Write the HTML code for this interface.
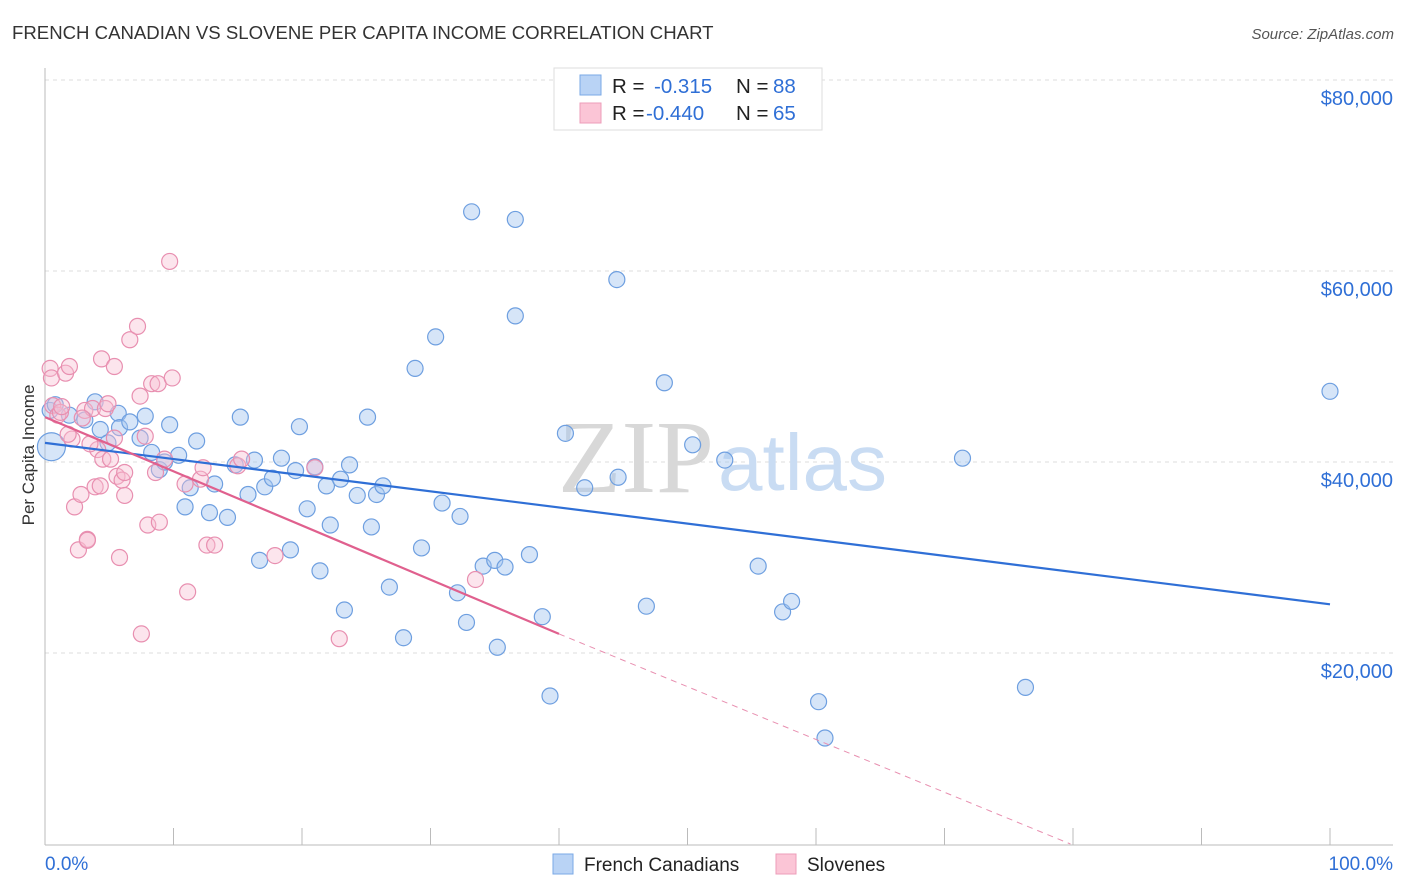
<!DOCTYPE html>
<html><head><meta charset="utf-8"><style>
body{margin:0;background:#fff;font-family:"Liberation Sans",sans-serif;}
svg{display:block}
</style></head><body>
<svg id="chart" width="1406" height="892" xmlns="http://www.w3.org/2000/svg">
<text x="12" y="39" font-size="18.6" fill="#333">FRENCH CANADIAN VS SLOVENE PER CAPITA INCOME CORRELATION CHART</text>
<text x="1394" y="39" font-size="15" fill="#555" font-style="italic" text-anchor="end">Source: ZipAtlas.com</text>
<g id="grid"></g>
<g id="axes"></g>
<text x="714" y="492" font-size="104" fill="#d8d8d8" text-anchor="end" font-family="Liberation Serif, serif">ZIP</text>
<text x="718" y="490" font-size="80" fill="#c9dcf3">atlas</text>
<g id="pts"></g>
<g id="lines"></g>
<text x="34" y="455" font-size="17" fill="#333" text-anchor="middle" transform="rotate(-90 34 455)">Per Capita Income</text>
<g>
<rect x="554" y="68" width="268" height="62" fill="#fff" stroke="#ddd"/>
<rect x="580" y="75" width="21" height="20" fill="#b9d3f5" stroke="#7aa8e6"/>
<rect x="580" y="103" width="21" height="20" fill="#fbc5d6" stroke="#ec9db9"/>
<text x="612" y="93" font-size="20.5" fill="#222">R = </text><text x="654" y="93" font-size="20.5" fill="#2f6fd6">-0.315</text>
<text x="736" y="93" font-size="20.5" fill="#222">N = </text><text x="773" y="93" font-size="20.5" fill="#2f6fd6">88</text>
<text x="612" y="120" font-size="20.5" fill="#222">R = </text><text x="646" y="120" font-size="20.5" fill="#2f6fd6">-0.440</text>
<text x="736" y="120" font-size="20.5" fill="#222">N = </text><text x="773" y="120" font-size="20.5" fill="#2f6fd6">65</text>
</g>
<g>
<rect x="553" y="854" width="20" height="20" fill="#b9d3f5" stroke="#7aa8e6"/>
<text x="584" y="871" font-size="19" fill="#222">French Canadians</text>
<rect x="776" y="854" width="20" height="20" fill="#fbc5d6" stroke="#ec9db9"/>
<text x="807" y="871" font-size="19" fill="#222">Slovenes</text>
</g>
</svg>
<script>
const yTicks=[20000,40000,60000,80000];
const yTickLabels=["$20,000","$40,000","$60,000","$80,000"];
const xTicks=[0,10,20,30,40,50,60,70,80,90,100];
const blueX=[0.5,0.4,0.8,1.9,3.1,3.9,4.3,4.9,5.7,5.8,6.6,7.4,7.8,8.3,8.9,9.3,9.7,10.4,10.9,11.3,11.8,12.8,13.2,14.2,14.8,15.2,15.8,16.3,16.7,17.1,17.7,18.4,19.1,19.5,19.8,20.4,21.0,21.4,21.9,22.2,23.0,23.3,23.7,24.3,25.1,25.4,25.8,26.3,26.8,27.9,28.8,29.3,30.4,30.9,32.1,32.3,32.8,33.2,34.1,35.0,35.2,35.8,36.6,36.6,37.7,38.7,39.3,40.5,42.0,44.5,44.6,46.8,48.2,50.4,52.9,55.5,57.4,58.1,60.2,60.7,71.4,76.3,100.0];
const blueY=[41600,45400,46000,44900,44400,46300,43400,42000,45100,43600,44200,42500,44800,41000,39200,40000,43900,40700,35300,37300,42200,34700,37700,34200,39700,44700,36600,40200,29700,37400,38300,40400,30800,39100,43700,35100,39500,28600,37500,33400,38200,24500,39700,36500,44700,33200,36600,37500,26900,21600,49800,31000,53100,35700,26300,34300,23200,66200,29100,29700,20600,29000,65400,55300,30300,23800,15500,43000,37300,59100,38400,24900,48300,41800,40200,29100,24300,25400,14900,11100,40400,16400,47400];
const pinkX=[0.4,0.5,0.6,1.0,1.2,1.6,1.9,2.1,2.3,2.6,2.8,3.1,3.3,3.3,3.7,3.9,4.1,4.3,4.5,4.7,4.9,5.1,5.4,5.6,5.8,6.0,6.2,6.2,6.6,7.2,7.4,7.5,7.8,8.0,8.3,8.6,8.8,8.9,9.3,9.7,9.9,10.9,11.1,12.1,12.3,12.6,13.2,15.0,15.3,17.9,21.0,22.9,33.5,1.3,2.9,4.4,5.4,3.5,1.8];
const pinkY=[49800,48800,45900,44900,45200,49300,50000,42400,35300,30800,36600,45400,31900,31800,45600,37400,41300,37500,40300,45600,46100,40300,42500,38500,30000,38100,38900,36500,52800,54200,46900,22000,42700,33400,48200,38900,48200,33700,40300,61000,48800,37700,26400,38200,39400,31300,31300,39600,40300,30200,39400,21500,27700,45800,44600,50800,50000,41900,42900];
const X=v=>45+v*12.85, Y=v=>844-v*191/20000;
const NS="http://www.w3.org/2000/svg";
function mk(t,a,p){const e=document.createElementNS(NS,t);for(const k in a)e.setAttribute(k,a[k]);p.appendChild(e);return e;}
const grid=document.getElementById('grid'),axes=document.getElementById('axes');
yTicks.forEach((v,i)=>{
 const l=mk('line',{x1:45,x2:1393,y1:Y(v),y2:Y(v),stroke:'#ddd','stroke-dasharray':'4,4'},grid);
 
 
 const t=mk('text',{x:1393,y:Y(v)+25,'font-size':20,fill:'#2f6fd6','text-anchor':'end'},axes);
 t.textContent=yTickLabels[i];
 
 
});
mk('line',{x1:45,x2:1393,y1:80,y2:80,stroke:'#ddd','stroke-dasharray':'4,4'},grid);
mk('line',{x1:45,x2:45,y1:68,y2:845,stroke:'#bbb'},axes);
mk('line',{x1:45,x2:1393,y1:845,y2:845,stroke:'#bbb'},axes);
xTicks.forEach(v=>{const l=mk('line',{x1:X(v),x2:X(v),y1:828,y2:845,stroke:'#bbb'},axes);
 
 });
let t=mk('text',{x:45,y:870,'font-size':19,fill:'#2f6fd6'},axes);t.textContent='0.0%';


t=mk('text',{x:1393,y:870,'font-size':19,fill:'#2f6fd6','text-anchor':'end'},axes);t.textContent='100.0%';


const pts=document.getElementById('pts');
blueX.forEach((v,i)=>{const c=mk('circle',{cx:X(v),cy:Y(blueY[i]),r:i==0?14:8,fill:'rgba(165,198,240,0.45)',stroke:'#6e9fe0','stroke-width':1.2},pts);
 
 });
pinkX.forEach((v,i)=>{const c=mk('circle',{cx:X(v),cy:Y(pinkY[i]),r:8,fill:'rgba(248,190,210,0.4)',stroke:'#e88fb0','stroke-width':1.2},pts);
 
 });
const lines=document.getElementById('lines');
let l=mk('line',{x1:X(0),y1:Y(42000),x2:X(100),y2:Y(25100),stroke:'#2f6fd6','stroke-width':2.2},lines);


l=mk('line',{x1:X(0),y1:Y(44700),x2:X(40),y2:Y(22000),stroke:'#e0608e','stroke-width':2.2},lines);


l=mk('line',{x1:X(40),y1:Y(22000),x2:X(79.8),y2:Y(0),stroke:'#e88fb0','stroke-width':1,'stroke-dasharray':'6,5'},lines);


</script>
</body></html>
